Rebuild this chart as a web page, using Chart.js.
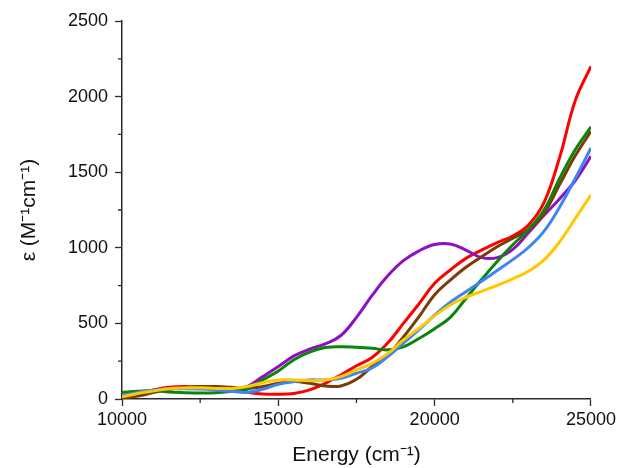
<!DOCTYPE html>
<html>
<head>
<meta charset="utf-8">
<script src="https://cdn.jsdelivr.net/npm/chart.js@4.4.1/dist/chart.umd.min.js"></script>
<style>
  html, body { margin: 0; padding: 0; background: #fff; }
  #wrap { width: 619px; height: 468px; }
</style>
</head>
<body>
<div id="wrap"><canvas id="chart" width="619" height="468"></canvas></div>
<script>
// energy grid (cm-1)
const energy = [10000, 10500, 11000, 11500, 12000, 12500, 13000, 13500, 14000, 14500,
                15000, 15500, 16000, 16500, 17000, 17500, 18000, 18500, 19000, 19500,
                20000, 20500, 21000, 21500, 22000, 22500, 23000, 23500, 24000, 24500, 25000];

// epsilon values (M-1 cm-1)
const redSeries = [15, 37, 60, 77, 82, 77, 70, 60, 44, 33,
                   31, 37, 60, 104, 159, 220, 275, 370, 500, 630,
                   765, 853, 930, 985, 1035, 1078, 1150, 1300, 1600, 1975, 2200];
const brownSeries = [4, 20, 42, 64, 75, 82, 82, 77, 70, 82,
                     104, 115, 104, 86, 86, 130, 215, 290, 410, 545,
                     690, 787, 871, 941, 1007, 1063, 1120, 1230, 1420, 1610, 1770];
const greenSeries = [44, 51, 55, 46, 42, 40, 42, 51, 64, 126,
                     185, 260, 310, 340, 346, 342, 335, 325, 345, 400,
                     465, 540, 665, 790, 910, 1020, 1120, 1250, 1460, 1650, 1800];
const purpleSeries = [15, 37, 53, 68, 75, 77, 72, 66, 82, 148,
                      215, 285, 330, 365, 420, 540, 685, 815, 915, 980,
                      1022, 1025, 985, 935, 935, 990, 1100, 1215, 1325, 1445, 1605];
const blueSeries = [24, 42, 60, 68, 68, 66, 60, 51, 44, 64,
                    97, 115, 126, 126, 137, 170, 205, 280, 370, 458,
                    555, 640, 710, 778, 850, 922, 1002, 1110, 1270, 1460, 1660];
const yellowSeries = [15, 37, 53, 68, 73, 75, 70, 70, 82, 108,
                      126, 126, 121, 126, 148, 192, 235, 300, 390, 467,
                      550, 622, 672, 712, 752, 795, 845, 920, 1040, 1195, 1350];

const xTicks = [10000, 15000, 20000, 25000];
const yTicks = [0, 500, 1000, 1500, 2000, 2500];

const AXIS_COLOR = '#2b2b2b';
const FONT = 'Liberation Sans, Arial, sans-serif';

function pts(vals) {
    return vals.map((v, i) => ({ x: energy[i], y: v }));
}

function ds(vals, color) {
    return {
        data: pts(vals),
        borderColor: color,
        backgroundColor: color,
        borderWidth: 3,
        pointRadius: 0,
        tension: 0.4,
        fill: false
    };
}

// minor ticks halfway between the major ones
const minorTicks = {
    id: 'minorTicks',
    afterDraw(chart) {
        const ctx = chart.ctx;
        const xs = chart.scales.x, ys = chart.scales.y;
        ctx.save();
        ctx.strokeStyle = AXIS_COLOR;
        ctx.lineWidth = 1.3;
        ctx.beginPath();
        for (let i = 0; i < yTicks.length - 1; i++) {
            const py = ys.getPixelForValue((yTicks[i] + yTicks[i + 1]) / 2);
            ctx.moveTo(xs.left - 4, py);
            ctx.lineTo(xs.left, py);
        }
        for (let i = 0; i < xTicks.length - 1; i++) {
            const px = xs.getPixelForValue((xTicks[i] + xTicks[i + 1]) / 2);
            ctx.moveTo(px, ys.bottom);
            ctx.lineTo(px, ys.bottom + 4);
        }
        ctx.stroke();
        ctx.restore();
    }
};

new Chart(document.getElementById('chart'), {
    type: 'line',
    data: {
        datasets: [
            ds(yellowSeries, '#ffc800'),
            ds(blueSeries, '#3d85f5'),
            ds(greenSeries, '#0a850a'),
            ds(brownSeries, '#7a3b06'),
            ds(purpleSeries, '#8f0fc4'),
            ds(redSeries, '#ff0000')
        ]
    },
    options: {
        responsive: false,
        animation: false,
        layout: { padding: { top: 21, right: 28, left: 0, bottom: 0 } },
        plugins: { legend: { display: false }, tooltip: { enabled: false } },
        scales: {
            x: {
                type: 'linear',
                min: 10000,
                max: 25000,
                afterBuildTicks(scale) { scale.ticks = xTicks.map(v => ({ value: v })); },
                afterFit(scale) { scale.height = 69; },
                ticks: {
                    color: '#111',
                    font: { family: FONT, size: 18 },
                    padding: 3,
                    maxRotation: 0,
                    callback: v => String(v)
                },
                grid: {
                    drawOnChartArea: false,
                    drawTicks: true,
                    tickLength: 7,
                    tickColor: AXIS_COLOR,
                    tickWidth: 1.3
                },
                border: { display: true, color: AXIS_COLOR, width: 1.5 },
                title: {
                    display: true,
                    text: 'Energy (cm\u207B\u00B9)',
                    color: '#111',
                    font: { family: FONT, size: 21 },
                    padding: { top: 0, bottom: 0 }
                }
            },
            y: {
                min: 0,
                max: 2500,
                afterBuildTicks(scale) { scale.ticks = yTicks.map(v => ({ value: v })); },
                afterFit(scale) { scale.width = 122; },
                ticks: {
                    color: '#111',
                    font: { family: FONT, size: 18 },
                    padding: 7,
                    callback: v => String(v)
                },
                grid: {
                    drawOnChartArea: false,
                    drawTicks: true,
                    tickLength: 7,
                    tickColor: AXIS_COLOR,
                    tickWidth: 1.3
                },
                border: { display: true, color: AXIS_COLOR, width: 1.5 },
                title: {
                    display: true,
                    text: '\u03B5 (M\u207B\u00B9cm\u207B\u00B9)',
                    color: '#111',
                    font: { family: FONT, size: 21 },
                    padding: { top: 17, bottom: 0 }
                }
            }
        }
    },
    plugins: [minorTicks]
});
</script>
</body>
</html>
